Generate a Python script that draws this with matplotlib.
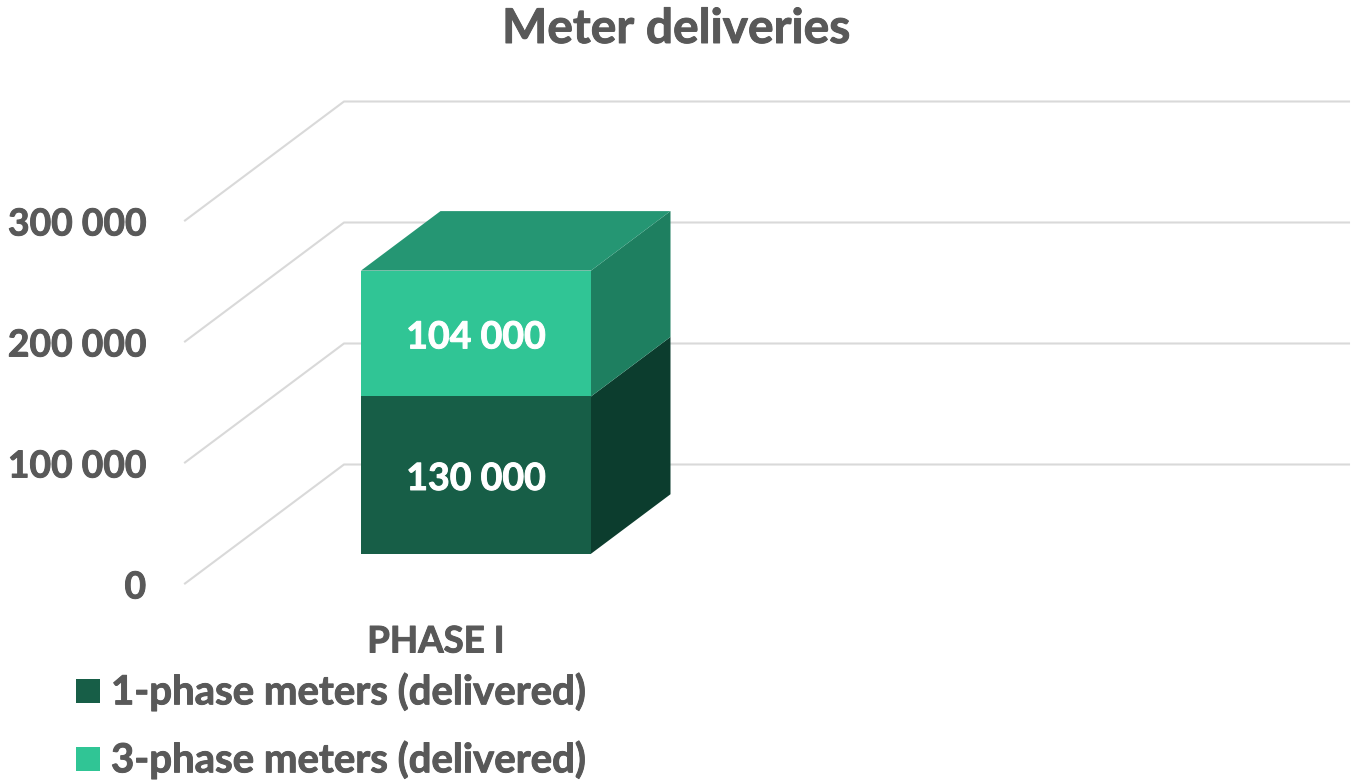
import matplotlib
matplotlib.use('Agg')
import matplotlib.pyplot as plt
import matplotlib.patheffects as pe
from matplotlib.patches import Polygon, Rectangle

plt.rcParams['font.family'] = ['Lato', 'DejaVu Sans']

title = 'Meter deliveries'
category = 'PHASE I'
series_names = ['1-phase meters (delivered)', '3-phase meters (delivered)']
series_values = [130000, 104000]
value_labels = ['130 000', '104 000']
ticks = [0, 100000, 200000, 300000]
tick_labels = ['0', '100 000', '200 000', '300 000']

front_colors = ['#175E47', '#30C595']
side_colors = ['#0C3D2E', '#1E7F60']
top_color = '#259673'
grey = '#595959'
grid_color = '#D9D9D9'

W, H = 1352, 780
per_px = 100000 / 121  # value units per pixel
floor_px = 583.5
wall_left = 185
depth_x, depth_y = 159, 119


def project(x, v, d):
  '''x in pixels along the floor front, v in chart units, d is depth 0-1'''
  return x + d * depth_x, v + d * depth_y * per_px


def thicken(color):
  # Lato bold is a bit lighter than the reference lettering
  return [pe.withStroke(linewidth=0.7, foreground=color)]


fig = plt.figure(figsize=(W / 100, H / 100), dpi=100)
ax = fig.add_axes([0, 0, 1, 1])
ax.set_xlim(0, W)
ax.set_ylim(-(H - floor_px) * per_px, floor_px * per_px)
ax.axis('off')

# wall and back grid lines
for t in ticks:
  p0 = project(wall_left, t, 0)
  p1 = project(wall_left, t, 1)
  ax.plot([p0[0], p1[0], W - 3], [p0[1], p1[1], p1[1]], color=grid_color, lw=1.5, zorder=1)

for t, lab in zip(ticks, tick_labels):
  ax.annotate(lab, xy=(146, t), xytext=(0, -3.2), textcoords='offset points', ha='right', va='center',
              fontsize=26.8, fontweight='bold', color=grey, path_effects=thicken(grey))

# stacked bar
bar_x0, bar_x1 = 361, 591
d0, d1 = 0.25, 0.75
x_shift = (d0 * depth_x)
bottom = 0
for i, val in enumerate(series_values):
  top = bottom + val
  fx0, fb = project(bar_x0 - x_shift, bottom, d0)
  fx1, ft = project(bar_x1 - x_shift, top, d0)
  ax.add_patch(Rectangle((fx0, fb), fx1 - fx0, ft - fb, color=front_colors[i], lw=0, zorder=3))
  side = [project(bar_x1 - x_shift, bottom, d0), project(bar_x1 - x_shift, bottom, d1),
          project(bar_x1 - x_shift, top, d1), project(bar_x1 - x_shift, top, d0)]
  ax.add_patch(Polygon(side, color=side_colors[i], lw=0, zorder=3))
  ax.annotate(value_labels[i], xy=((fx0 + fx1) / 2, (fb + ft) / 2), xytext=(0, -2.8), textcoords='offset points',
              ha='center', va='center', fontsize=27, fontweight='bold', color='white', zorder=4,
              path_effects=thicken('white'))
  bottom = top
roof = [project(bar_x0 - x_shift, bottom, d0), project(bar_x1 - x_shift, bottom, d0),
        project(bar_x1 - x_shift, bottom, d1), project(bar_x0 - x_shift, bottom, d1)]
ax.add_patch(Polygon(roof, color=top_color, lw=0, zorder=3))

# category label, legend and title placed in figure fractions
fig.text(436 / W, 1 - 642 / H, category, ha='center', va='center', fontsize=26.4, fontweight='bold', color=grey,
         path_effects=thicken(grey))
fig.text(676 / W, 1 - 29 / H, title, ha='center', va='center', fontsize=34.5, fontweight='bold', color=grey,
         path_effects=thicken(grey))
for name, col, py, sq in zip(series_names, front_colors, [692, 760], [690.5, 758.5]):
  fig.patches.append(Rectangle((76 / W, 1 - (sq + 12) / H), 24 / W, 24 / H, transform=fig.transFigure, color=col, lw=0))
  fig.text(111 / W, 1 - py / H, name, ha='left', va='center', fontsize=28.9, fontweight='bold', color=grey,
           path_effects=thicken(grey))

fig.savefig('out.png', dpi=100)
